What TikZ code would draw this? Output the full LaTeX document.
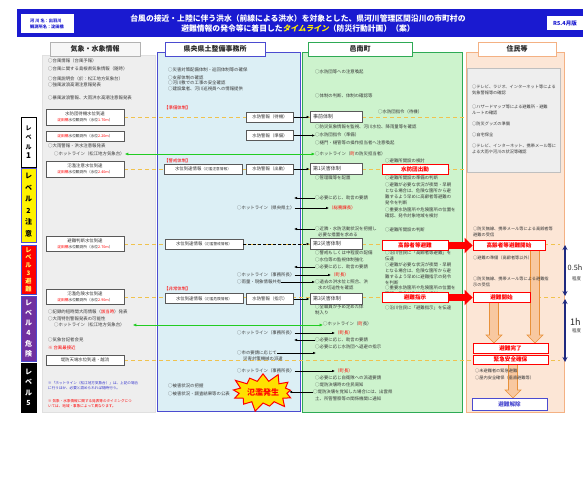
\documentclass[tikz,border=0pt]{standalone}
\usepackage{fontspec}
\setmainfont{Noto Sans CJK JP}
\newfontfamily\tlfont[FakeSlant=0.2]{Noto Sans CJK JP}
\usetikzlibrary{arrows.meta,shapes.symbols,calc}
\pgfdeclarelayer{bg}
\pgfsetlayers{bg,main}
\definecolor{hdrblue}{HTML}{1A1AD0}
\definecolor{panGray}{HTML}{EEEEEE}
\definecolor{panBlue}{HTML}{DCEFF5}
\definecolor{panGreen}{HTML}{CDF3CD}
\definecolor{panPeach}{HTML}{FCE6D6}
\definecolor{bordBlue}{HTML}{4B4BD0}
\definecolor{bordGreen}{HTML}{2EAA55}
\definecolor{bordOrange}{HTML}{F4B183}
\definecolor{dashY}{HTML}{F0C24E}
\definecolor{oraL}{HTML}{F8C8A0}
\definecolor{oraD}{HTML}{E8913A}
\definecolor{navyA}{HTML}{1F2A80}
\definecolor{hotGreen}{HTML}{22CC22}
\definecolor{lvPurple}{HTML}{7030A0}
\definecolor{noteBlue}{HTML}{3333CC}
\definecolor{starY}{HTML}{FFE000}
\newcommand{\fsz}[2]{\fontsize{#1}{#2}\selectfont}
\newcommand{\stn}[1]{{\color{red}淀田橋}水位観測所（水位{\color{red}#1}）}
\newcommand{\oarrow}[2]{%
  \path[fill=oraL, draw=oraD, line width=0.6pt] let \p1=(#1), \p2=(#2) in
  ({\x1-4.5pt},{\y1}) -- ({\x1+4.5pt},{\y1}) -- ({\x1+4.5pt},{\y2+8pt}) -- ({\x1+8pt},{\y2+8pt})
  -- ({\x1},{\y2}) -- ({\x1-8pt},{\y2+8pt}) -- ({\x1-4.5pt},{\y2+8pt}) -- cycle;}
\begin{document}
\begin{tikzpicture}[x=1pt,y=-1pt,
  tx/.style={anchor=west, inner sep=0pt, font=\fsz{4.4}{5.7}, align=left, text=black!78},
  rtx/.style={tx, text=red},
  ptx/.style={tx, font=\fsz{4.2}{5.5}},
  ntx/.style={tx, font=\fsz{3.6}{5}},
  wbox/.style={draw=black!65, fill=white, line width=0.7pt, inner sep=0.6pt, font=\fsz{4.4}{5.4}, align=center, text=black!80},
  gbox/.style={draw=black!65, fill=white, line width=0.8pt, inner sep=2pt, font=\fsz{5}{6}, text width=46pt, align=left, minimum width=52pt, minimum height=11pt, text=black!80},
  rbox/.style={draw=red, fill=white, line width=0.8pt, text=red, font=\bfseries\fsz{5.6}{6.5}, inner sep=0pt, minimum height=10pt, minimum width=66pt},
  hdbox/.style={line width=0.9pt, fill=white, font=\bfseries\fsz{7}{8}, minimum height=14pt, inner sep=0pt, text=black!85},
  lvl/.style={minimum width=15pt, inner sep=0pt, line width=0.8pt, align=center},
  arr/.style={-{Latex[length=3pt,width=2.6pt]}, line width=0.6pt, black},
  hot/.style={{Latex[length=3.5pt,width=3.2pt]}-{Latex[length=3.5pt,width=3.2pt]}, line width=0.9pt, hotGreen},
  ydash/.style={dashY, line width=0.9pt, dash pattern=on 4pt off 3pt},
  nav/.style={{Stealth[length=5pt,width=5pt]}-{Stealth[length=5pt,width=5pt]}, line width=1.3pt, navyA},
  redarr/.style={red, line width=7pt, -{Triangle[width=15pt,length=8pt]}}
]
\useasboundingbox (0,0) rectangle (583,500);
\begin{pgfonlayer}{bg}
  \fill[white] (0,0) rectangle (583,500);
  \filldraw[fill=panGray, draw=black!12] (42,55) rectangle (155,412);
  \filldraw[fill=panBlue, draw=bordBlue, line width=0.9pt] (157,52) rectangle (300,411);
  \filldraw[fill=panGreen, draw=bordGreen, line width=0.9pt] (302,52) rectangle (462,412);
  \filldraw[fill=panPeach, draw=bordOrange, line width=0.9pt] (466,52) rectangle (564,412);
\end{pgfonlayer}

% ---------- header ----------
\fill[hdrblue] (17,9) rectangle (583,37);
\node[fill=white, minimum width=53pt, minimum height=19pt, inner sep=0pt, align=left,
      font=\bfseries\fsz{4.2}{6}, text=hdrblue] (river) at (47,23.5) {河\ 川\ 名：出羽川\\観測所名：淀田橋};
\node[font=\bfseries\fsz{7.8}{10}, text=white, align=center, inner sep=0pt] (title) at (298,23.5)
  {台風の接近・上陸に伴う洪水（前線による洪水）を対象とした、県河川管理区間沿川の市町村の\\
   避難情報の発令等に着目した{\tlfont\bfseries\color{yellow}タイムライン}（防災行動計画）（案）};
\node[fill=white, minimum width=36pt, minimum height=14pt, inner sep=0pt,
      font=\bfseries\fsz{5.5}{6}, text=hdrblue] (ver) at (565,23) {R5.4月版};

% ---------- column headers ----------
\node[hdbox, draw=black!30, fill=panGray!50, minimum width=90pt] (hk) at (95,49) {気象・水象情報};
\node[hdbox, draw=bordBlue, minimum width=100pt] (hb) at (215,49) {県央県土整備事務所};
\node[hdbox, draw=bordGreen, minimum width=104pt] (hg) at (360,49) {邑南町};
\node[hdbox, draw=bordOrange, minimum width=78pt] (hj) at (517,49) {住民等};

% ---------- levels ----------
\node[lvl, draw=black, fill=white, minimum height=50pt, font=\bfseries\fsz{6}{9.5}] (L1) at (28.5,142) {レ\\ベ\\ル\\{\fsz{8}{9.5}1}};
\node[lvl, draw=bordBlue, fill=yellow, minimum height=74pt, font=\bfseries\fsz{7}{11.5}] (L2) at (28.5,205) {レ\\ベ\\ル\\2\\注\\意};
\node[lvl, draw=bordBlue, fill=red, text=yellow!60!white, minimum height=49pt, font=\bfseries\fsz{6.2}{7.8}] (L3) at (28.5,269.5) {レ\\ベ\\ル\\3\\避\\難};
\node[lvl, draw=bordBlue, fill=lvPurple, text=white, minimum height=65pt, font=\bfseries\fsz{7}{10.2}] (L4) at (28.5,328.5) {レ\\ベ\\ル\\4\\危\\険};
\node[lvl, draw=black, fill=black, text=white, minimum height=49pt, font=\bfseries\fsz{7}{10.5}] (L5) at (28.5,387.5) {レ\\ベ\\ル\\5};

% ---------- 気象・水象情報 ----------
\node[tx] (k1) at (48,61) {○台風情報（台風予報）};
\node[tx] (k2) at (48,69) {○台風に関する島根県気象情報（随時）};
\node[tx] (k3) at (48,79) {○台風説明会（於：松江地方気象台）};
\node[tx] (k4) at (48,85) {○強風波浪高潮注意報発表};
\node[tx] (k5) at (48,98) {○暴風波浪警報、大雨洪水高潮注意報発表};
\node[wbox, minimum width=78pt, minimum height=16pt] (kb1) at (85,117) {水防団待機水位到達\\{\fsz{3.7}{5}\stn{1.70m}}};
\node[wbox, minimum width=78pt, minimum height=10pt] (kb2) at (85,136) {{\fsz{3.7}{5}\stn{2.20m}}};
\node[tx] (k6) at (48,146) {○大雨警報・洪水注意報発表};
\node[tx] (k7) at (54,154) {○ホットライン（松江地方気象台）};
\node[wbox, minimum width=78pt, minimum height=16pt] (kb3) at (85,169) {氾濫注意水位到達\\{\fsz{3.7}{5}\stn{2.40m}}};
\node[wbox, minimum width=78pt, minimum height=15pt] (kb4) at (85,244) {避難判断水位到達\\{\fsz{3.7}{5}\stn{2.70m}}};
\node[wbox, minimum width=78pt, minimum height=15pt] (kb5) at (85,297) {氾濫危険水位到達\\{\fsz{3.7}{5}\stn{2.90m}}};
\node[tx] (k8) at (48,312) {○記録的短時間大雨情報（{\color{red}該当時}）発表};
\node[tx] (k9) at (48,319) {○大雨特別警報発表の可能性};
\node[tx] (k10) at (54,325) {○ホットライン（松江地方気象台）};
\node[tx] (k11) at (48,340) {○気象台記者会見};
\node[rtx] (k12) at (48,348) {※ 台風最接近};
\node[wbox, minimum width=78pt, minimum height=10pt] (kb6) at (85,360) {堤防天端水位到達・越流};
\node[ntx, text=noteBlue] (k13) at (48,386) {※「ホットライン（松江地方気象台）」は、上記の場合\\に行うほか、必要と認められれば随時行う。};
\node[ntx, text=red] (k14) at (48,404) {※ 気象・水象情報に関する発表等のタイミングにつ\\いては、地域・事象によって異なります。};

% ---------- 県央県土整備事務所 ----------
\node[tx] (b1) at (168,70) {○災害対策配備体制・巡回体制等の確保};
\node[tx] (b2) at (168,77.5) {○支部体制の確認};
\node[tx] (b3) at (168,83.3) {○河川敷での工事の安全確認};
\node[tx] (b4) at (168,89.2) {○建設業者、河川巡視員への情報提供};
\node[rtx] (b5) at (164,108) {【準備体制】};
\node[wbox, minimum width=47pt, minimum height=10pt] (bw1) at (270,117) {水防警報（待機）};
\node[wbox, minimum width=47pt, minimum height=10pt] (bw2) at (270,135.5) {水防警報（準備）};
\node[rtx] (b6) at (164,161) {【警戒体制】};
\node[wbox, minimum width=78pt, minimum height=10pt] (bi1) at (203,169) {水位到達情報{\fsz{3.7}{5}（氾濫注意情報）}};
\node[wbox, minimum width=47pt, minimum height=10pt] (bw3) at (270,169) {水防警報（出動）};
\node[tx] (b7) at (237,208) {○ホットライン（県央県土）};
\node[wbox, minimum width=78pt, minimum height=10pt] (bi2) at (204,244) {水位到達情報{\fsz{3.7}{5}（氾濫警戒情報）}};
\node[tx] (b8) at (237,275) {○ホットライン（事務所長）};
\node[tx] (b9) at (237,282) {○雨量・現象情報共有};
\node[rtx] (b10) at (164,289) {【非常体制】};
\node[wbox, minimum width=78pt, minimum height=10pt] (bi3) at (204,298.5) {水位到達情報{\fsz{3.7}{5}（氾濫危険情報）}};
\node[wbox, minimum width=47pt, minimum height=11pt] (bw4) at (270,299) {水防警報（指示）};
\node[tx] (b11) at (237,333) {○ホットライン（事務所長）};
\node[tx] (b12) at (237,353) {○市の要請に応じて};
\node[tx] (b12b) at (243,359) {災害対策機械の派遣};
\node[tx] (b13) at (237,371) {○ホットライン（事務所長）};
\node[tx] (b14) at (168,386) {○被害状況の把握};
\node[tx] (b15) at (168,394) {○被害状況・調査結果等の公表};
\node[starburst, starburst points=13, starburst point height=10pt, fill=starY, draw=red, line width=1pt,
      text=red, font=\bfseries\fsz{8}{9}, inner sep=1pt, minimum width=60pt, minimum height=42pt] (flood) at (263,392) {氾濫発生};

% ---------- 邑南町 ----------
\node[tx] (g1) at (315,72) {○水防団等への注意喚起};
\node[tx] (g2) at (315,96) {○体制の判断、体制の確認等};
\node[gbox] (gb1) at (336,117) {事前体制};
\node[tx] (g3) at (378,112) {○水防団指令（待機）};
\node[tx] (g4) at (315,127) {○防災気象情報を監視、河川水位、降雨量等を確認};
\node[tx] (g5) at (315,135) {○水防団指令（準備）};
\node[tx] (g6) at (315,143) {○樋門・樋管等の操作担当者へ注意喚起};
\node[tx] (g7) at (315,154) {○ホットライン（{\color{red}町}の防災担当者）};
\node[gbox] (gb2) at (336,169) {第1災害体制};
\node[tx] (g8) at (385,161) {○避難所開設の検討};
\node[rbox] (gr1) at (415,169.5) {水防団出動};
\node[tx] (g9) at (315,178) {○管理職等を配置};
\node[tx] (g10) at (385,178) {○避難所開設の準備の判断};
\node[tx, anchor=north west] (g11) at (385,183) {○避難が必要な状況が夜間・早朝\\となる場合は、危険な箇所から避\\難するよう早めに高齢者等避難の\\発令を判断};
\node[tx] (g12) at (315,198) {○必要に応じ、助言の要請};
\node[rtx] (g13) at (329,208) {（総務課長）};
\node[tx, anchor=north west] (g14) at (385,208) {○重要水防箇所や危険箇所の位置を\\確認、発令対象地域を検討};
\node[tx] (g15) at (315,229) {○近隣・水防活動状況を把握し};
\node[tx] (g15b) at (318,235) {必要な措置を求める};
\node[tx] (g16) at (385,230) {○避難所開設の判断};
\node[gbox] (gb3) at (336,244) {第2災害体制};
\node[rbox] (gr2) at (415,245.5) {高齢者等避難};
\node[tx] (g17) at (315,253) {○警戒もしくは中程度の配備};
\node[tx] (g18) at (315,260) {○水位等の監視体制強化};
\node[tx] (g19) at (315,267) {○必要に応じ、助言の要請};
\node[rtx] (g20) at (331,275) {（町長）};
\node[tx] (g21) at (315,282) {○過去の洪水位と照合、洪};
\node[tx] (g21b) at (318,288) {水の切迫性を確認};
\node[tx, anchor=north west] (g22) at (385,251) {○沿川住民に「高齢者等避難」を\\伝達};
\node[tx, anchor=north west] (g23) at (385,263) {○避難が必要な状況が夜間・早朝\\となる場合は、危険な箇所から避\\難するよう早めに避難指示の発令\\を判断};
\node[tx, anchor=north west] (g24) at (385,286) {○重要水防箇所や危険箇所の位置を\\確認、発令対象地域を検討};
\node[gbox] (gb4) at (336,299) {第3災害体制};
\node[rbox] (gr3) at (415,297.5) {避難指示};
\node[tx, anchor=north west] (g25) at (315,305) {○全職員が予め定めた体\\制入り};
\node[tx] (g26) at (385,308) {○沿川住民に「避難指示」を伝達};
\node[tx] (g27) at (323,324) {○ホットライン（{\color{red}町}長）};
\node[rtx] (g28) at (335,333) {（町長）};
\node[tx] (g29) at (315,340) {○必要に応じ、助言の要請};
\node[tx] (g30) at (315,347) {○必要に応じ水防団へ退避の指示};
\coordinate (g31a) at (316,355);
\node[rtx] (g31) at (335,371) {（町長）};
\node[tx] (g32) at (315,378) {○必要に応じ自衛隊への派遣要請};
\node[tx] (g33) at (315,385) {○堤防決壊時の住民周知};
\node[tx] (g34) at (313,392) {○堤防決壊を覚知した場合には、出雲県};
\node[tx] (g34b) at (315,398.5) {土、所管警察等の関係機関に通知};

% ---------- 住民等 ----------
\node[draw=black!25, fill=panGray, minimum width=93pt, minimum height=104pt, inner sep=0pt] (jbox) at (513.5,120) {};
\node[ptx, anchor=north west] (j1) at (472,85) {○テレビ、ラジオ、インターネット等による\\気象警報等の確認};
\node[ptx, anchor=north west] (j2) at (472,105) {○ハザードマップ等による避難所・避難\\ルートの確認};
\node[ptx] (j3) at (472,124) {○防災グッズの準備};
\node[ptx] (j4) at (472,135) {○自宅保全};
\node[ptx, anchor=north west] (j5) at (472,144) {○テレビ、インターネット、携帯メール等に\\よる大雨や河川の状況等確認};
\node[ptx, anchor=north west] (j6) at (473,227) {○防災無線、携帯メール等による高齢者等\\避難の受信};
\node[rbox, minimum width=72pt] (jr1) at (509,245.5) {高齢者等避難開始};
\node[ptx] (j7) at (473,258) {○避難の準備（高齢者等以外）};
\node[ptx, anchor=north west] (j8) at (473,277) {○防災無線、携帯メール等による避難指\\示の受信};
\node[rbox, minimum width=57pt] (jr2) at (501.5,297.5) {避難開始};
\node[rbox, minimum width=75pt] (jr3) at (510.5,348) {避難完了};
\node[rbox, minimum width=75pt, minimum height=9pt] (jr4) at (510.5,359.5) {緊急安全確保};
\node[ptx] (j9) at (475,371) {○未避難者の緊急避難};
\node[ptx] (j10) at (475,377.5) {○屋内安全確保（垂直避難等）};
\node[draw=bordBlue, fill=white, line width=0.8pt, text=bordBlue, font=\bfseries\fsz{5.6}{6.5},
      minimum width=75pt, minimum height=12pt, inner sep=0pt] (jb5) at (509.5,404) {避難解除};

% ---------- time spans ----------
\coordinate (n1a) at (565,245);
\coordinate (n1b) at (565,296);
\coordinate (n2a) at (565,299);
\coordinate (n2b) at (565,362);
\draw[nav] (n1a) -- (n1b);
\draw[nav] (n2a) -- (n2b);
\node[anchor=west, inner sep=0pt, font=\fsz{7.3}{8}, text=black!85] (h05) at (567.5,268) {0.5h};
\node[anchor=west, inner sep=0pt, font=\fsz{4.5}{5}, text=black!80] (h05b) at (572,279) {程度};
\node[anchor=west, inner sep=0pt, font=\fsz{9}{10}, text=black!85] (h1) at (570,322) {1h};
\node[anchor=west, inner sep=0pt, font=\fsz{4.5}{5}, text=black!80] (h1b) at (572,331) {程度};

% ---------- yellow dashed level lines (behind) ----------
\coordinate (ye1) at (560,117);
\coordinate (ye2) at (560,169);
\coordinate (ye3) at (560,244);
\coordinate (ye4) at (560,297);
\coordinate (ye5) at (560,360);
\coordinate (oa1s) at (535,250.5);
\coordinate (oa1e) at (535,343);
\coordinate (oa2s) at (494,302.5);
\coordinate (oa2e) at (494,343);
\coordinate (oa3s) at (513,364);
\coordinate (oa3e) at (513,398);
\begin{pgfonlayer}{bg}
  \draw[ydash] (kb1.east) -- (ye1);
  \draw[ydash] (kb3.east) -- (ye2);
  \draw[ydash] (kb4.east) -- (ye3);
  \draw[ydash] (kb5.east) -- (ye4);
  \draw[ydash] (kb6.east) -- (ye5);
  \oarrow{oa1s}{oa1e}
  \oarrow{oa2s}{oa2e}
  \oarrow{oa3s}{oa3e}
\end{pgfonlayer}

% ---------- connectors ----------
\coordinate (rb) at (294,0);
\draw[arr] (bw1.east) -- (bw1.east -| gb1.west);
\draw[arr] (bw2.east) -- (bw2.east -| g5.west);
\draw[arr] (bw3.east) -- (bw3.east -| gb2.west);
\draw[arr] (g12.west) -- (g12.west -| rb);
\draw[arr] (b7.east) -- (b7.east -| g13.west);
\draw[arr] (g15.west) -- (g15.west -| rb);
\draw[densely dashed, line width=0.7pt, -{Latex[length=3pt,width=2.6pt]}] (bi2.east) -- (bi2.east -| gb3.west);
\draw[arr] (g19.west) -- (g19.west -| rb);
\draw[arr] (b8.east) -- (b8.east -| g20.west);
\draw[arr] (b9.east) -- (b9.east -| g21.west);
\draw[arr] (bw4.east) -- (bw4.east -| gb4.west);
\draw[arr] (b11.east) -- (b11.east -| g28.west);
\draw[arr] (g29.west) -- (g29.west -| rb);
\draw[arr] (b12.east) -- (b12.east -| g31a);
\draw[arr] (b13.east) -- (b13.east -| g31.west);
\draw[arr] (g34.west) -- (g34.west -| flood.east);
\draw[hot] (k7.east) -- (k7.east -| g7.west);
\draw[hot] ([xshift=8pt]k10.east) -- (k10.east -| g27.west);
\draw[redarr] (gr2.east) -- (jr1.west);
\draw[redarr] (gr3.east) -- (jr2.west);
\end{tikzpicture}
\end{document}
